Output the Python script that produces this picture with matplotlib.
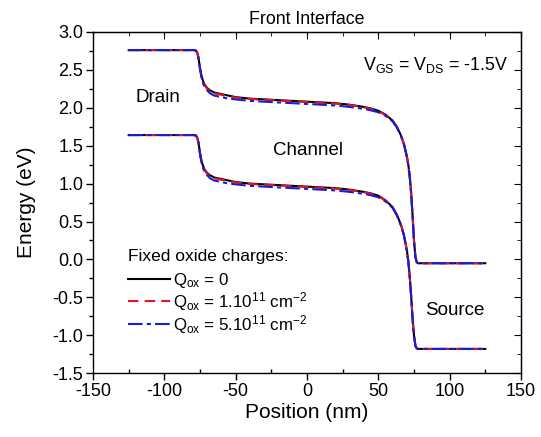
import matplotlib
matplotlib.use("Agg")
import matplotlib.pyplot as plt
from matplotlib.ticker import MultipleLocator

plt.rcParams['font.family'] = ['Liberation Sans', 'DejaVu Sans']
plt.rcParams['mathtext.fontset'] = 'custom'
plt.rcParams['mathtext.rm'] = 'Liberation Sans'
plt.rcParams['mathtext.it'] = 'Liberation Sans'
plt.rcParams['axes.unicode_minus'] = False

# Position (nm)
position = [-125, -80, -78, -77, -76, -75, -74, -73, -72, -70, -68, -65, -60, -55, -50,
            -40, -30, -20, -10, 0, 10, 20, 30, 40, 45, 50, 55, 60, 63, 66, 68, 70, 71,
            72, 73, 74, 75, 76, 77, 78, 125]

# Conduction band (eV)
ec_q0 = [2.76, 2.76, 2.755, 2.73, 2.65, 2.52, 2.42, 2.36, 2.31, 2.26, 2.23, 2.20, 2.18, 2.16, 2.14,
         2.12, 2.11, 2.10, 2.09, 2.08, 2.07, 2.06, 2.04, 2.01, 1.99, 1.96, 1.91, 1.83, 1.75, 1.63, 1.52, 1.36, 1.25,
         1.10, 0.88, 0.58, 0.25, 0.03, -0.04, -0.05, -0.05]
ec_q1 = [2.76, 2.76, 2.755, 2.73, 2.65, 2.52, 2.42, 2.35, 2.30, 2.25, 2.22, 2.19, 2.17, 2.15, 2.135,
         2.115, 2.105, 2.095, 2.085, 2.075, 2.065, 2.055, 2.035, 2.005, 1.985, 1.955, 1.905, 1.825, 1.745, 1.625, 1.515, 1.355, 1.245,
         1.095, 0.875, 0.575, 0.245, 0.03, -0.04, -0.05, -0.05]
ec_q5 = [2.76, 2.76, 2.755, 2.73, 2.65, 2.51, 2.40, 2.33, 2.28, 2.23, 2.19, 2.16, 2.14, 2.12, 2.11,
         2.09, 2.08, 2.07, 2.06, 2.05, 2.04, 2.03, 2.01, 1.985, 1.965, 1.94, 1.895, 1.82, 1.74, 1.62, 1.51, 1.35, 1.24,
         1.09, 0.87, 0.57, 0.24, 0.03, -0.04, -0.05, -0.05]

# Valence band (eV)
ev_q0 = [1.64, 1.64, 1.635, 1.61, 1.53, 1.40, 1.30, 1.24, 1.19, 1.14, 1.11, 1.08, 1.06, 1.04, 1.02,
         1.00, 0.99, 0.98, 0.97, 0.96, 0.95, 0.94, 0.92, 0.89, 0.87, 0.84, 0.78, 0.69, 0.59, 0.45, 0.32, 0.12, -0.02,
         -0.22, -0.48, -0.78, -1.00, -1.14, -1.175, -1.18, -1.18]
ev_q1 = [1.64, 1.64, 1.635, 1.61, 1.53, 1.40, 1.30, 1.23, 1.18, 1.13, 1.10, 1.07, 1.05, 1.035, 1.015,
         0.995, 0.985, 0.975, 0.965, 0.955, 0.945, 0.935, 0.915, 0.885, 0.865, 0.835, 0.775, 0.685, 0.585, 0.445, 0.315, 0.115, -0.025,
         -0.225, -0.485, -0.785, -1.00, -1.14, -1.175, -1.18, -1.18]
ev_q5 = [1.64, 1.64, 1.635, 1.61, 1.53, 1.39, 1.28, 1.21, 1.16, 1.11, 1.07, 1.04, 1.02, 1.00, 0.99,
         0.97, 0.96, 0.95, 0.94, 0.93, 0.92, 0.91, 0.89, 0.865, 0.845, 0.82, 0.765, 0.68, 0.58, 0.44, 0.31, 0.11, -0.03,
         -0.23, -0.49, -0.79, -1.00, -1.14, -1.175, -1.18, -1.18]

labels = [r'Q$_{\mathrm{ox}}$ = 0',
          r'Q$_{\mathrm{ox}}$ = 1.10$^{11}$ cm$^{-2}$',
          r'Q$_{\mathrm{ox}}$ = 5.10$^{11}$ cm$^{-2}$']

fig = plt.figure(figsize=(5.41, 4.37), dpi=100)
ax = fig.add_axes([0.172, 0.146, 0.791, 0.781])

ax.plot(position, ec_q0, color='black', lw=1.5, ls='-', label=labels[0])
ax.plot(position, ec_q1, color='#e8141c', lw=1.5, ls=(0, (5, 3)), label=labels[1])
ax.plot(position, ec_q5, color='#1a1adc', lw=1.5, ls=(0, (7, 2, 2, 2)), label=labels[2])
ax.plot(position, ev_q0, color='black', lw=1.5, ls='-')
ax.plot(position, ev_q1, color='#e8141c', lw=1.5, ls=(0, (5, 3)))
ax.plot(position, ev_q5, color='#1a1adc', lw=1.5, ls=(0, (7, 2, 2, 2)))

ax.set_xlim(-150, 150)
ax.set_ylim(-1.5, 3.0)
ax.xaxis.set_major_locator(MultipleLocator(50))
ax.xaxis.set_minor_locator(MultipleLocator(25))
ax.yaxis.set_major_locator(MultipleLocator(0.5))
ax.yaxis.set_minor_locator(MultipleLocator(0.25))
ax.yaxis.set_major_formatter(matplotlib.ticker.FormatStrFormatter('%.1f'))

ax.tick_params(axis='both', which='major', labelsize=13, length=5, width=1, direction='out', pad=2)
ax.tick_params(axis='y', which='minor', length=3, width=1, direction='out')
ax.tick_params(axis='x', which='minor', length=3, width=1, direction='in')

secx = ax.secondary_xaxis('top')
secx.xaxis.set_major_locator(MultipleLocator(50))
secx.xaxis.set_minor_locator(MultipleLocator(25))
secx.tick_params(which='major', direction='in', length=5, labeltop=False)
secx.tick_params(which='minor', direction='in', length=3)
secy = ax.secondary_yaxis('right')
secy.yaxis.set_major_locator(MultipleLocator(0.5))
secy.yaxis.set_minor_locator(MultipleLocator(0.25))
secy.tick_params(which='major', direction='in', length=5, labelright=False)
secy.tick_params(which='minor', direction='in', length=3)

for sp in ax.spines.values():
    sp.set_linewidth(1.0)

ax.set_xlabel('Position (nm)', fontsize=15, labelpad=2)
ax.set_ylabel('Energy (eV)', fontsize=15, labelpad=12)
ax.set_title('Front Interface', fontsize=12.8, pad=6)

ax.text(39, 2.56, r'V$_{\mathrm{GS}}$ = V$_{\mathrm{DS}}$ = -1.5V', fontsize=12.8, va='center')
ax.text(-120, 2.14, 'Drain', fontsize=13.5, va='center')
ax.text(-24, 1.43, 'Channel', fontsize=13.5, va='center')
ax.text(83, -0.67, 'Source', fontsize=13.5, va='center')

leg = ax.legend(loc='lower left', bbox_to_anchor=(0.055, 0.075), frameon=False,
                title='Fixed oxide charges:', fontsize=12.2, title_fontsize=12.5,
                handlelength=2.45, handletextpad=0.2, labelspacing=0.0, borderaxespad=0.3)
leg._legend_box.align = 'left'
leg._legend_box.sep = 5

fig.savefig('out.png', dpi=100)
